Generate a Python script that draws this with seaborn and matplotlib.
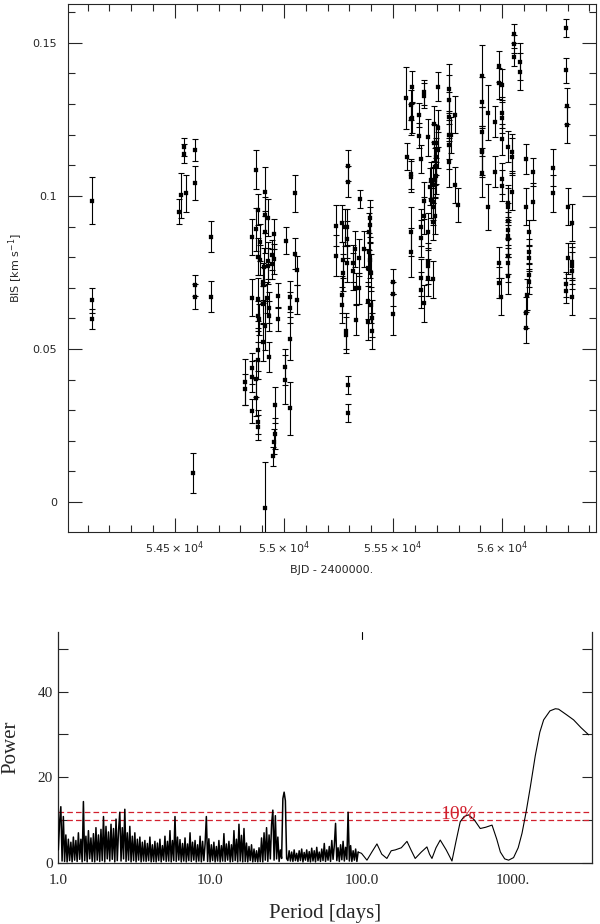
import numpy as np
import pandas as pd
import matplotlib
matplotlib.use("Agg")
import matplotlib.pyplot as plt
import seaborn as sns
from matplotlib.ticker import MultipleLocator, FixedLocator, NullLocator

# ---------------- top panel data: BIS time series ----------------
bjd = [
    54121, 54121, 54121,
    54521, 54529, 54540, 54540, 54549, 54583, 54590, 54590, 54590, 54590, 54667, 54667,
    54823, 54823, 54852, 54852, 54852, 54852, 54852, 54870, 54870, 54873, 54873,
    54879, 54879, 54879, 54879, 54879, 54879, 54882, 54882, 54884, 54888, 54890, 54902,
    54905, 54905, 54905, 54908, 54911, 54911, 54911, 54911, 54913, 54924, 54925, 54925, 54925,
    54933, 54933, 54933, 54944, 54944, 54951, 54953, 54953, 54954, 54957, 54957, 54971, 54971,
    55003, 55003, 55011, 55029, 55029, 55029, 55029, 55049, 55049, 55058, 55058,
    55237, 55237, 55268, 55268, 55268, 55271, 55271, 55278, 55283, 55283, 55288, 55288, 55288,
    55292, 55292, 55295, 55295, 55315, 55318, 55324, 55330, 55330, 55342, 55344, 55347, 55367,
    55384, 55384, 55384, 55390, 55390, 55394, 55394, 55394, 55401, 55401, 55405, 55405,
    55500, 55500, 55500,
    55558, 55563, 55580, 55580, 55584, 55584, 55584, 55584, 55589, 55589, 55618, 55618,
    55630, 55630, 55630, 55630, 55630, 55641, 55641, 55641, 55641, 55641, 55659,
    55662, 55662, 55662, 55662, 55668, 55673, 55673, 55681, 55681, 55684, 55684, 55684,
    55687, 55687, 55691, 55691, 55694, 55699, 55699, 55699, 55699, 55704, 55704, 55704,
    55756, 55756, 55756, 55756, 55756, 55756, 55765, 55783, 55783, 55797,
    55907, 55907, 55907, 55907, 55907, 55907, 55934, 55934, 55965, 55965,
    55985, 55985, 55985, 55985, 55995, 55999, 55999, 55999, 55999, 55999, 55999, 56025,
    56029, 56029, 56029, 56029, 56029, 56029, 56029, 56029, 56029, 56045, 56045, 56045,
    56052, 56052, 56052, 56080, 56080, 56107, 56107, 56110, 56110, 56116,
    56122, 56122, 56122, 56122, 56122, 56142, 56142, 56233, 56233,
    56294, 56294, 56297, 56297, 56301, 56301, 56294, 56294,
    56320, 56320, 56320, 56320, 56320,
]
bis = [
    0.0985, 0.0659, 0.0599,
    0.0949, 0.1002, 0.1160, 0.1138, 0.1009, 0.0094, 0.1150, 0.1043, 0.0708, 0.0671, 0.0867, 0.0671,
    0.0393, 0.0368, 0.0866, 0.0668, 0.0437, 0.0410, 0.0298, 0.1086, 0.0891, 0.0403, 0.0341,
    0.0955, 0.0802, 0.0662, 0.0608, 0.0497, 0.0463, 0.0261, 0.0244, 0.0597, 0.0849, 0.0791, 0.0522,
    0.0720, 0.0709, 0.0646, 0.0769, 0.1014, 0.0882, 0.0576, -0.0019, 0.0938, 0.0668, 0.0929, 0.0789, 0.0771,
    0.0635, 0.0608, 0.0474, 0.0807, 0.0778, 0.0149, 0.0875, 0.0197, 0.0794, 0.0317, 0.0223, 0.0674, 0.0598,
    0.0441, 0.0400, 0.0854, 0.0671, 0.0635, 0.0533, 0.0306, 0.1008, 0.0811, 0.0757, 0.0661,
    0.0902, 0.0804, 0.0911, 0.0677, 0.0644, 0.0791, 0.0749, 0.0898, 0.0559, 0.0546, 0.0898, 0.0858, 0.0780,
    0.1099, 0.1047, 0.0382, 0.0291, 0.0780, 0.0754, 0.0827, 0.0698, 0.0595, 0.0698, 0.0798, 0.0989, 0.0827,
    0.0766, 0.0658, 0.0589, 0.0883, 0.0818, 0.0927, 0.0905, 0.0791, 0.0749, 0.0644, 0.0600, 0.0559,
    0.0720, 0.0680, 0.0613,
    0.1321, 0.1128, 0.1297, 0.1250, 0.1072, 0.1063, 0.0883, 0.0816, 0.1357, 0.1255, 0.1265, 0.1197,
    0.1120, 0.0898, 0.0862, 0.0733, 0.0693, 0.1338, 0.1328, 0.0985, 0.0936, 0.0649, 0.1192,
    0.0883, 0.0785, 0.0771, 0.0733, 0.1030, 0.1052, 0.0987, 0.0981, 0.0728, 0.1036, 0.0965, 0.0916,
    0.1235, 0.1174, 0.1052, 0.0936, 0.1096, 0.1172, 0.1128, 0.1099, 0.1065, 0.1357, 0.1221, 0.1150,
    0.1350, 0.1314, 0.1259, 0.1199, 0.1167, 0.1110, 0.1199, 0.1265, 0.1036, 0.0971,
    0.1392, 0.1308, 0.1210, 0.1148, 0.1142, 0.1076, 0.1272, 0.0963, 0.1243, 0.1079,
    0.1423, 0.1368, 0.0782, 0.0717, 0.0671, 0.1363, 0.1272, 0.1256, 0.1185, 0.1056, 0.1034, 0.1161,
    0.0976, 0.0965, 0.0918, 0.0889, 0.0870, 0.0860, 0.0804, 0.0780, 0.0739, 0.1143, 0.1128, 0.1014,
    0.1530, 0.1496, 0.1454, 0.1438, 0.1406, 0.1120, 0.0965, 0.0619, 0.0570, 0.0677,
    0.0881, 0.0818, 0.0796, 0.0742, 0.0720, 0.1079, 0.0981, 0.1092, 0.1009,
    0.1548, 0.1410, 0.1294, 0.1232, 0.0965, 0.0796, 0.0711, 0.0691,
    0.0913, 0.0785, 0.0772, 0.0756, 0.0671,
]
bis_err = [
    0.0077, 0.0040, 0.0033,
    0.0040, 0.0074, 0.0030, 0.0030, 0.0060, 0.0065, 0.0035, 0.0055, 0.0035, 0.0040, 0.0050, 0.0050,
    0.0075, 0.0050, 0.0060, 0.0060, 0.0050, 0.0050, 0.0040, 0.0063, 0.0070, 0.0060, 0.0060,
    0.0050, 0.0060, 0.0070, 0.0050, 0.0070, 0.0060, 0.0040, 0.0040, 0.0050, 0.0060, 0.0050, 0.0060,
    0.0060, 0.0060, 0.0060, 0.0060, 0.0080, 0.0070, 0.0080, 0.0150, 0.0060, 0.0050, 0.0060, 0.0060, 0.0060,
    0.0050, 0.0050, 0.0050, 0.0050, 0.0050, 0.0030, 0.0050, 0.0040, 0.0050, 0.0060, 0.0050, 0.0040, 0.0040,
    0.0060, 0.0080, 0.0044, 0.0050, 0.0050, 0.0070, 0.0087, 0.0060, 0.0050, 0.0047, 0.0047,
    0.0067, 0.0067, 0.0060, 0.0060, 0.0060, 0.0060, 0.0060, 0.0060, 0.0060, 0.0060, 0.0060, 0.0060, 0.0060,
    0.0050, 0.0050, 0.0030, 0.0030, 0.0060, 0.0060, 0.0060, 0.0050, 0.0050, 0.0050, 0.0060, 0.0030, 0.0060,
    0.0060, 0.0060, 0.0060, 0.0060, 0.0060, 0.0060, 0.0060, 0.0060, 0.0060, 0.0060, 0.0060, 0.0060,
    0.0040, 0.0040, 0.0066,
    0.0101, 0.0044, 0.0050, 0.0050, 0.0050, 0.0050, 0.0080, 0.0080, 0.0050, 0.0050, 0.0040, 0.0040,
    0.0046, 0.0060, 0.0060, 0.0060, 0.0060, 0.0040, 0.0040, 0.0060, 0.0060, 0.0060, 0.0060,
    0.0060, 0.0060, 0.0060, 0.0060, 0.0060, 0.0060, 0.0060, 0.0060, 0.0060, 0.0060, 0.0060, 0.0060,
    0.0060, 0.0060, 0.0060, 0.0060, 0.0060, 0.0060, 0.0060, 0.0060, 0.0060, 0.0048, 0.0060, 0.0060,
    0.0080, 0.0080, 0.0080, 0.0080, 0.0080, 0.0080, 0.0060, 0.0060, 0.0060, 0.0056,
    0.0100, 0.0080, 0.0080, 0.0080, 0.0080, 0.0080, 0.0090, 0.0075, 0.0050, 0.0050,
    0.0050, 0.0050, 0.0050, 0.0050, 0.0060, 0.0050, 0.0050, 0.0050, 0.0050, 0.0050, 0.0050, 0.0050,
    0.0060, 0.0060, 0.0060, 0.0060, 0.0060, 0.0060, 0.0060, 0.0060, 0.0060, 0.0060, 0.0060, 0.0060,
    0.0030, 0.0030, 0.0030, 0.0060, 0.0060, 0.0050, 0.0060, 0.0050, 0.0050, 0.0050,
    0.0040, 0.0040, 0.0040, 0.0040, 0.0040, 0.0046, 0.0060, 0.0060, 0.0060,
    0.0030, 0.0040, 0.0060, 0.0060, 0.0060, 0.0050, 0.0040, 0.0040,
    0.0060, 0.0060, 0.0060, 0.0060, 0.0060,
]
top_xticks = [54500, 55000, 55500, 56000]
top_xtick_labels = [r"$5.45\times10^4$", r"$5.5\times10^4$", r"$5.55\times10^4$", r"$5.6\times10^4$"]
top_yticks = [0, 0.05, 0.1, 0.15]
top_ytick_labels = ["0", "0.05", "0.1", "0.15"]

# ---------------- bottom panel data: periodogram ----------------
# dense short-period part (powers sampled on an even log-period grid 1 .. 95 d)
noise_power = [
    3.0, 9.5, 13.1, 0.4, 10.8, 0.3, 6.5, 0.2, 5.5, 0.5,
    4.8, 0.2, 6.0, 0.6, 5.2, 0.3, 7.0, 0.8, 5.5, 0.2,
    14.3, 0.5, 6.2, 0.2, 7.5, 0.9, 5.8, 0.3, 6.8, 0.2,
    8.2, 0.6, 6.5, 0.3, 7.8, 0.5, 10.8, 0.2, 8.5, 0.9,
    7.2, 0.4, 9.0, 0.8, 8.0, 0.2, 10.2, 0.5, 7.5, 11.8,
    0.4, 8.2, 0.9, 12.5, 0.3, 7.0, 0.6, 8.5, 0.2, 6.2,
    0.5, 7.0, 0.2, 5.5, 0.6, 6.0, 0.2, 4.8, 0.4, 5.2,
    0.3, 4.5, 0.5, 6.0, 0.2, 4.2, 0.3, 5.0, 0.2, 4.6,
    0.5, 5.5, 0.2, 4.0, 0.6, 6.2, 0.3, 5.0, 0.4, 7.5,
    0.2, 5.2, 0.5, 10.8, 0.3, 6.0, 0.6, 5.4, 0.2, 4.5,
    0.4, 5.8, 0.2, 4.4, 0.5, 7.0, 0.3, 4.8, 0.6, 5.2,
    0.2, 4.2, 0.4, 6.2, 0.2, 5.0, 0.5, 4.4, 10.8, 0.3,
    5.6, 0.2, 4.2, 0.5, 4.8, 0.2, 3.8, 0.4, 5.2, 0.2,
    4.0, 0.4, 6.8, 0.3, 4.4, 0.6, 5.0, 0.2, 4.2, 0.3,
    7.5, 0.5, 5.5, 0.2, 9.0, 0.4, 6.4, 0.2, 8.0, 0.3,
    4.6, 0.2, 3.8, 0.5, 4.2, 0.2, 3.2, 0.3, 2.8, 0.2,
    3.5, 0.3, 5.8, 0.2, 7.0, 0.6, 8.2, 0.3, 6.5, 0.9,
    9.0, 12.3, 0.6, 11.0, 0.9, 6.0, 0.3, 3.0, 1.0, 15.0,
    16.5, 14.5, 1.0, 0.5, 2.8, 0.4, 2.5, 0.3, 3.0, 0.5,
    2.2, 0.3, 2.8, 0.5, 3.2, 0.2, 2.4, 0.6, 3.0, 0.3,
    2.6, 0.2, 3.4, 0.4, 2.8, 0.2, 3.6, 0.5, 2.5, 0.3,
    3.2, 0.5, 4.5, 0.3, 3.0, 0.6, 3.8, 0.3, 5.2, 0.8,
    4.0, 9.2, 0.5, 3.5, 0.3, 4.2, 0.7, 5.0, 0.4, 3.6,
    0.8, 11.8, 0.4, 4.0, 0.3, 2.8, 0.6, 3.2, 0.3, 2.5,
]
noise_period_min, noise_period_max = 1.0, 95.0
smooth_period = [95, 100, 108.6, 117, 126.4, 136, 147, 157, 166.9, 183, 199.5, 212, 226, 248, 270,
                 281, 291.5, 310, 330.6, 362, 395, 420, 448, 475, 508, 555, 607, 660, 726, 780,
                 824, 880, 934, 1007, 1080, 1145, 1220, 1300, 1400, 1500, 1590, 1750, 1900,
                 1995, 2250, 2506, 2800, 3150]
smooth_power = [2.5, 2.2, 0.6, 2.5, 4.4, 2.0, 1.0, 2.8, 3.0, 3.5, 5.0, 3.0, 1.0, 2.5, 3.7,
                2.0, 1.0, 3.5, 5.3, 3.0, 0.4, 5.0, 9.6, 10.8, 11.2, 10.0, 8.0, 8.3, 8.8, 5.5,
                2.5, 0.9, 0.6, 1.2, 3.5, 6.9, 12.0, 17.8, 25.0, 30.5, 33.4, 35.5, 36.0,
                35.9, 34.6, 33.4, 31.6, 29.9]
fap_levels = [11.8, 10.0]
fap_label = "10%"
bot_xticks = [1, 10, 100, 1000]
bot_xtick_labels = ["1.0", "10.0", "100.0", "1000."]
bot_yticks = [0, 20, 40]

# ---------------- figure ----------------
sns.set_style("ticks")
plt.rcParams['font.family'] = ['DejaVu Sans']
plt.rcParams['mathtext.fontset'] = 'dejavusans'

fig = plt.figure(figsize=(6, 9.24), dpi=100)

# top panel
ax1 = fig.add_axes([0.1133, 0.4242, 0.88, 0.5715])
ax1.errorbar(bjd, bis, yerr=bis_err, fmt='none', ecolor='black',
             elinewidth=0.8, capsize=2.2, capthick=0.8, zorder=2)
df_top = pd.DataFrame({"bjd": bjd, "bis": bis})
sns.scatterplot(data=df_top, x="bjd", y="bis", marker='s', s=10, color='black',
                edgecolor='black', linewidth=0.2, ax=ax1, legend=False, zorder=3)
ax1.set_xlim(54010, 56430)
ax1.set_ylim(-0.0098, 0.1627)
ax1.xaxis.set_major_locator(FixedLocator(top_xticks))
ax1.set_xticklabels(top_xtick_labels)
ax1.xaxis.set_minor_locator(MultipleLocator(100))
ax1.yaxis.set_major_locator(FixedLocator(top_yticks))
ax1.set_yticklabels(top_ytick_labels)
ax1.yaxis.set_minor_locator(MultipleLocator(0.01))
ax1.tick_params(which='both', direction='in', top=True, right=True, width=0.8, labelsize=8)
ax1.tick_params(axis='y', which='major', length=10, pad=8)
ax1.tick_params(axis='x', which='major', length=10, pad=5)
ax1.tick_params(which='minor', length=5)
for s in ax1.spines.values():
    s.set_linewidth(0.8)
ax1.set_ylabel("BIS [km s$^{-1}$]", fontsize=8, labelpad=5)
ax1.set_xlabel("BJD - 2400000.", fontsize=8, labelpad=7)

# bottom panel
n = len(noise_power)
noise_period = np.geomspace(noise_period_min, noise_period_max, n)
df_noise = pd.DataFrame({"period": noise_period, "power": noise_power})
df_smooth = pd.DataFrame({"period": smooth_period, "power": smooth_power})

ax2 = fig.add_axes([0.0972, 0.0663, 0.889, 0.25])
sns.lineplot(data=df_noise, x="period", y="power", ax=ax2, color='black', lw=1.1,
             sort=False, estimator=None, zorder=3)
sns.lineplot(data=df_smooth, x="period", y="power", ax=ax2, color='black', lw=0.8,
             sort=False, estimator=None, zorder=3)
ax2.set_xscale('log')
ax2.set_xlim(1, 3300)
ax2.set_ylim(0, 54)
for lvl in fap_levels:
    ax2.axhline(lvl, color='#d2202e', lw=0.9, ls=(0, (4.5, 2.5)), zorder=2)

serif = ['Liberation Serif', 'DejaVu Serif']
ax2.text(330, 10.2, fap_label, color='#d2202e', fontsize=14, family=serif,
         ha='left', va='baseline', zorder=4)

ax2.xaxis.set_major_locator(FixedLocator(bot_xticks))
ax2.set_xticklabels(bot_xtick_labels, family=serif, fontsize=11)
ax2.xaxis.set_minor_locator(NullLocator())
ax2.yaxis.set_major_locator(FixedLocator(bot_yticks))
ax2.set_yticklabels([str(v) for v in bot_yticks], family=serif, fontsize=11)
ax2.yaxis.set_minor_locator(MultipleLocator(10))
ax2.tick_params(axis='x', which='both', length=0, pad=8)
ax2.tick_params(axis='y', which='both', direction='in', right=True, length=7, width=0.8, pad=4)
ax2.spines['top'].set_visible(False)
for k in ['left', 'right', 'bottom']:
    ax2.spines[k].set_linewidth(0.9)
ax2.axvline(100, ymin=0.97, ymax=1.0, color='black', lw=0.8)
ax2.set_xlabel("Period [days]", family=serif, fontsize=15, labelpad=12)
ax2.set_ylabel("Power", family=serif, fontsize=15, labelpad=12)

fig.savefig("out.png", dpi=100)
